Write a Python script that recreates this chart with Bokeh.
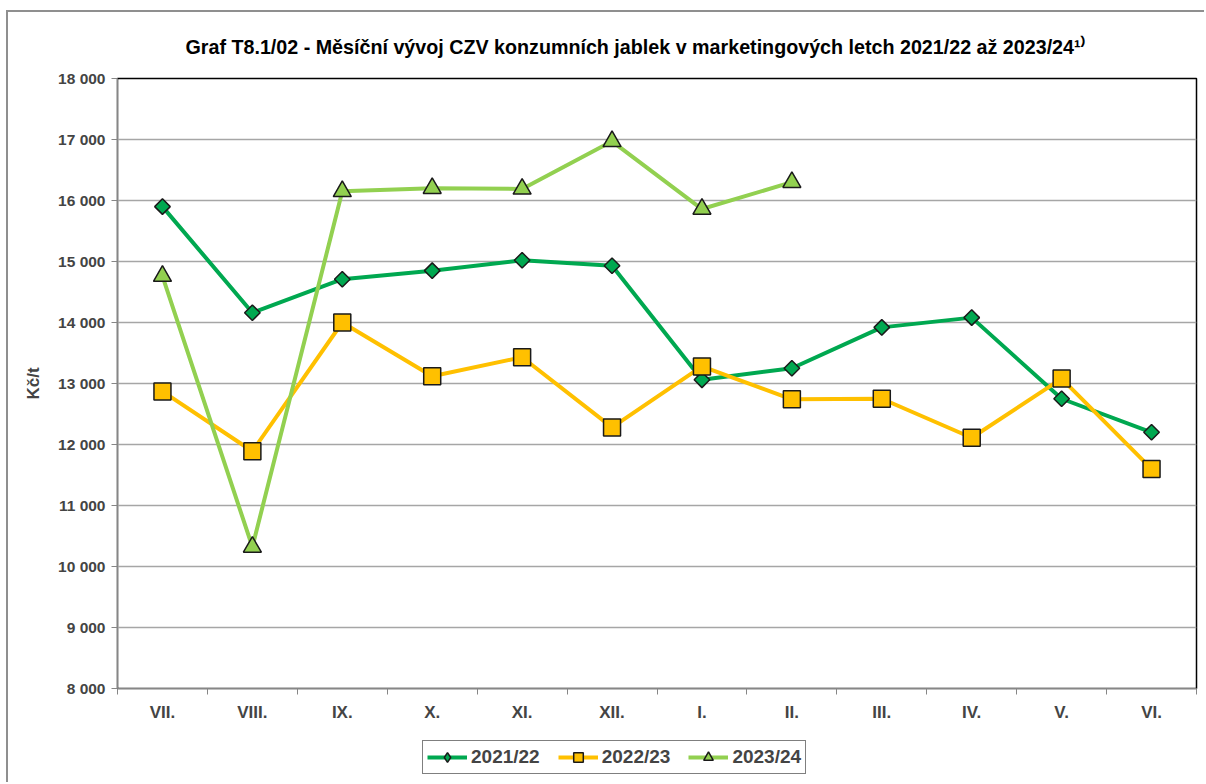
import math
from bokeh.plotting import figure
from bokeh.layouts import column
from bokeh.models import FixedTicker, Range1d, Legend, LegendItem, Title
from bokeh.embed import file_html
from bokeh.resources import INLINE

months = ["VII.", "VIII.", "IX.", "X.", "XI.", "XII.", "I.", "II.", "III.", "IV.", "V.", "VI."]
s2122 = [15900, 14160, 14710, 14850, 15020, 14930, 13060, 13250, 13920, 14080, 12750, 12200]
s2223 = [12870, 11890, 14000, 13120, 13430, 12280, 13280, 12740, 12750, 12110, 13080, 11600]
s2324 = [14760, 10320, 16150, 16200, 16190, 16970, 15860, 16300]
y_ticks = [8000, 9000, 10000, 11000, 12000, 13000, 14000, 15000, 16000, 17000, 18000]
y_tick_labels = ["8 000", "9 000", "10 000", "11 000", "12 000", "13 000", "14 000",
                 "15 000", "16 000", "17 000", "18 000"]
series_names = ["2021/22", "2022/23", "2023/24"]
title_text = "Graf T8.1/02 - Měsíční vývoj CZV konzumních jablek v marketingových letch 2021/22 až 2023/24¹⁾"

FONT = "Liberation Sans"
C1, C2, C3 = "#00A850", "#FFC000", "#92D050"
BORDER = "2px solid #8f8f8f"

xs = [i + 0.5 for i in range(len(months))]

p = figure(width=1198, height=728, output_backend="svg", toolbar_location=None,
           x_range=Range1d(0, len(months)), y_range=Range1d(y_ticks[0], y_ticks[-1]),
           min_border_left=109, min_border_right=10, min_border_top=66, min_border_bottom=52)
p.title = None
p.styles = {"border-top": BORDER, "border-left": BORDER}

t = Title(text=title_text, align="left", offset=68, text_font_size="19.7px",
          text_font_style="bold", text_font=FONT, text_color="black", standoff=41)
p.add_layout(t, "above")

p.outline_line_color = "black"
p.outline_line_width = 1.5

# axes
p.xaxis.ticker = FixedTicker(ticks=xs, minor_ticks=list(range(len(months) + 1)))
p.xaxis.major_label_overrides = {x: m for x, m in zip(xs, months)}
p.xaxis.major_tick_line_color = None
p.xaxis.minor_tick_in = 0
p.xaxis.minor_tick_out = 6
p.xaxis.minor_tick_line_color = "#868686"
p.xaxis.axis_line_color = "#868686"
p.xaxis.major_label_text_font = FONT
p.xaxis.major_label_text_font_style = "bold"
p.xaxis.major_label_text_font_size = "17px"
p.xaxis.major_label_standoff = 8

p.yaxis.ticker = FixedTicker(ticks=y_ticks, minor_ticks=[])
p.yaxis.major_label_overrides = {v: l for v, l in zip(y_ticks, y_tick_labels)}
p.yaxis.major_tick_in = 0
p.yaxis.major_tick_out = 6
p.yaxis.major_tick_line_color = "#868686"
p.yaxis.axis_line_color = "#868686"
p.yaxis.major_label_text_font = FONT
p.yaxis.major_label_text_font_style = "bold"
p.yaxis.major_label_text_font_size = "15.5px"
p.yaxis.major_label_standoff = 6
p.yaxis.axis_label = "Kč/t"
p.yaxis.axis_label_text_font = FONT
p.yaxis.axis_label_text_font_style = "bold"
p.yaxis.axis_label_text_font_size = "17px"
p.yaxis.axis_label_standoff = 12

p.xgrid.grid_line_color = None
p.ygrid.grid_line_color = "#a6a6a6"
p.ygrid.grid_line_width = 1.5

line_kw = dict(line_width=4)
mk = [dict(marker="square", angle=math.pi / 4, size=11),
      dict(marker="square", size=17),
      dict(marker="triangle", size=18)]
legend_mk = ["diamond", "square", "triangle"]
colors = [C1, C2, C3]
series = [s2122, s2223, s2324]

for vals, col, m in zip(series, colors, mk):
    xv = xs[:len(vals)]
    p.line(xv, vals, line_color=col, **line_kw)
    p.scatter(xv, vals, fill_color=col, line_color="#1a1a1a", line_width=1.5, **m)

# legend strip below the chart (proxy renderers lie outside its visible range)
p2 = figure(width=1198, height=44, output_backend="svg", toolbar_location=None,
            x_range=Range1d(0, 1), y_range=Range1d(0, 1),
            x_axis_location=None, y_axis_location=None,
            min_border=0, min_border_left=0, min_border_right=0,
            min_border_top=0, min_border_bottom=0)
p2.title = None
p2.grid.visible = False
p2.outline_line_color = None
p2.styles = {"border-left": BORDER}

items = []
for name, col, lm in zip(series_names, colors, legend_mk):
    lr = p2.line(x=[-5, -4], y=[-5, -4], line_color=col, **line_kw)
    sr = p2.scatter(x=[-5], y=[-5], marker=lm, fill_color=col,
                    line_color="#1a1a1a", line_width=1.5)
    items.append(LegendItem(label=name, renderers=[lr, sr]))

legend = Legend(items=items, orientation="horizontal", location=(305, 8),
                label_text_font=FONT, label_text_font_style="bold",
                label_text_font_size="19px", glyph_width=40, glyph_height=24,
                label_standoff=4, spacing=18, padding=4, margin=0,
                border_line_color="black", border_line_width=1.5,
                background_fill_alpha=1.0)
p2.add_layout(legend, "center")

lay = column(p, p2, spacing=0)
lay.styles = {"margin-left": "6px", "margin-top": "10px"}

open("out.html", "w").write(file_html(lay, INLINE))
